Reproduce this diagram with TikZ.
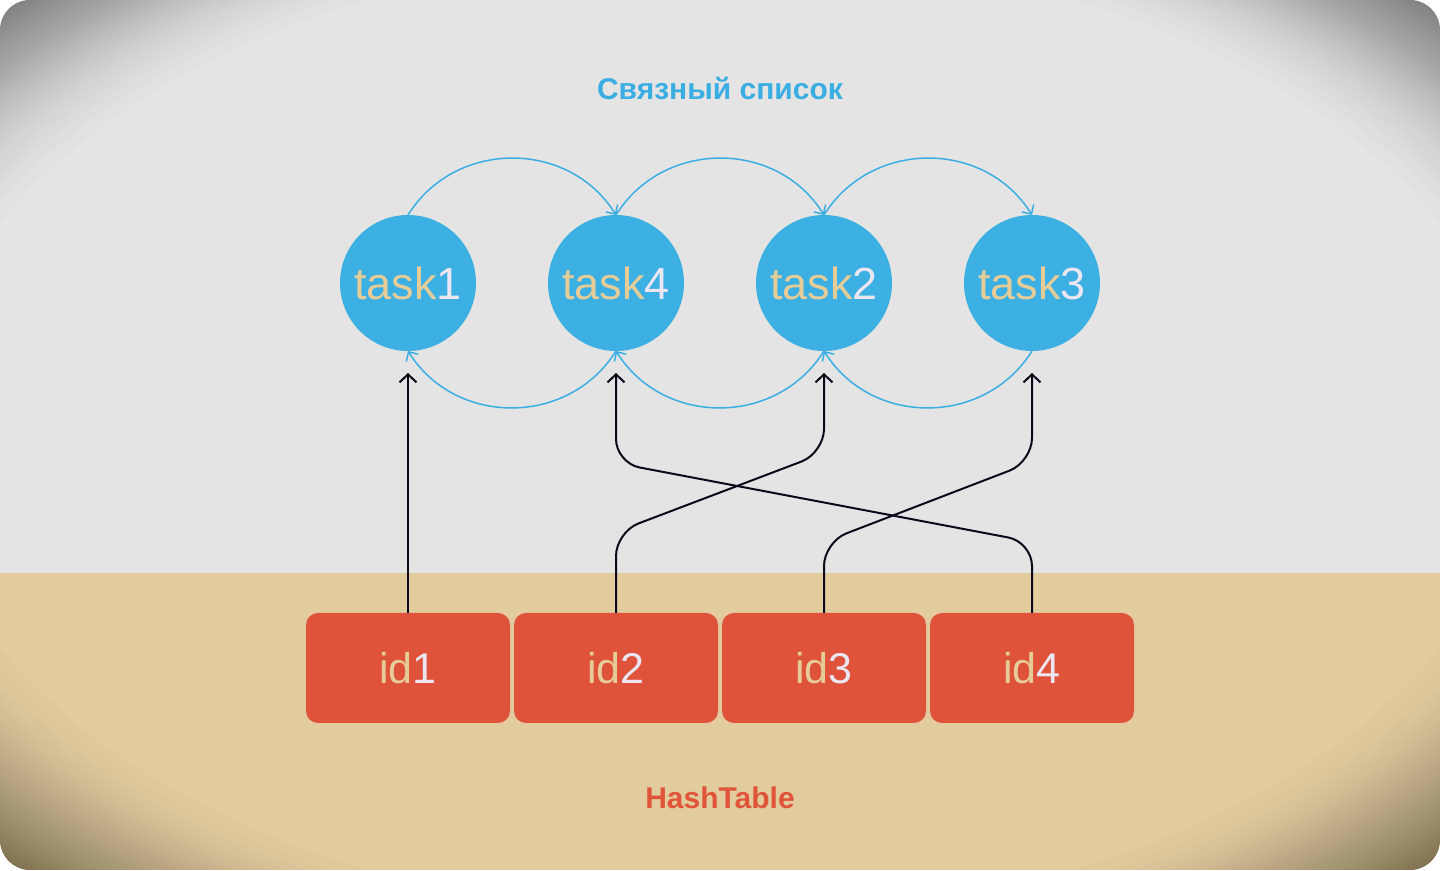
\documentclass[tikz,border=0pt]{standalone}
\usepackage{fontspec}
\setmainfont{Liberation Sans}
\usetikzlibrary{arrows.meta}
\definecolor{bggrey}{HTML}{E4E4E4}
\definecolor{bgtan}{HTML}{E2CC9E}
\definecolor{taskblue}{HTML}{3DB0E3}
\definecolor{linkblue}{HTML}{3AAEE3}
\definecolor{idred}{HTML}{E0533B}
\definecolor{txttan}{HTML}{E6CD98}
\definecolor{digitw}{HTML}{EBE6F2}
\definecolor{connblack}{HTML}{0A0A1A}
\definecolor{hashred}{HTML}{E0553A}
\tikzset{
  tasknode/.style={circle, fill=taskblue, minimum size=136pt, inner sep=0pt, outer sep=0pt, font=\fontsize{45}{47}\selectfont},
  idbox/.style={rectangle, rounded corners=12pt, fill=idred, minimum width=204pt, minimum height=110pt, inner sep=0pt, outer sep=0pt, font=\fontsize{43}{45}\selectfont},
  link/.style={draw=linkblue, line width=1.5pt, -{Straight Barb[length=7pt,width=14pt,line width=1.5pt]}, looseness=1.1},
  conn/.style={draw=connblack, line width=2pt, -{Straight Barb[length=8pt,width=17pt,line width=2pt]}, rounded corners=24pt, shorten >=22pt},
  heading/.style={font=\bfseries\fontsize{30}{32}\selectfont, inner sep=0pt},
  vigring/.style={fill=black, fill opacity=0.011, even odd rule}
}
\newcommand{\tasklabel}[1]{{\color{txttan}task}{\color{digitw}#1}}
\newcommand{\idlabel}[1]{{\color{txttan}id}{\color{digitw}#1}}
\begin{document}
\begin{tikzpicture}[x=1pt,y=1pt]
\useasboundingbox (0,0) rectangle (1440,870);
\fill[white] (0,0) rectangle (1440,870);
\begin{scope}
  \clip[rounded corners=30pt] (0,0) rectangle (1440,870);
  \fill[bggrey] (0,297) rectangle (1440,870);
  \fill[bgtan] (0,0) rectangle (1440,297);
  \foreach \k in {1,...,44}{
    \pgfmathsetmacro{\s}{1.4142*(0.75+0.25*(\k/45)^0.5)}
    \fill[vigring] (-10,-10) rectangle (1450,880) (720,435) ellipse [x radius={720*\s}, y radius={435*\s}];
  }
\end{scope}

\node[heading, text=linkblue] (title) at (720,782) {Связный список};
\node[heading, text=hashred] (hash) at (720,72) {HashTable};

\node[tasknode] (t1) at (408,587) {\tasklabel{1}};
\node[tasknode] (t4) at (616,587) {\tasklabel{4}};
\node[tasknode] (t2) at (824,587) {\tasklabel{2}};
\node[tasknode] (t3) at (1032,587) {\tasklabel{3}};

\node[idbox] (id1) at (408,202) {\idlabel{1}};
\node[idbox] (id2) at (616,202) {\idlabel{2}};
\node[idbox] (id3) at (824,202) {\idlabel{3}};
\node[idbox] (id4) at (1032,202) {\idlabel{4}};

\draw[link] (t1.north) to[out=58,in=122] (t4.north);
\draw[link] (t4.north) to[out=58,in=122] (t2.north);
\draw[link] (t2.north) to[out=58,in=122] (t3.north);
\draw[link] (t4.south) to[out=-122,in=-58] (t1.south);
\draw[link] (t2.south) to[out=-122,in=-58] (t4.south);
\draw[link] (t3.south) to[out=-122,in=-58] (t2.south);

\draw[conn] (id1.north) -- (t1.south);
\draw[conn] (id2.north) -- ([yshift=81pt]id2.north) -- ([yshift=-102pt]t2.south) -- (t2.south);
\draw[conn] (id3.north) -- ([yshift=71pt]id3.north) -- ([yshift=-111pt]t3.south) -- (t3.south);
\draw[conn] (id4.north) -- ([yshift=71pt]id4.north) -- ([yshift=-112pt]t4.south) -- (t4.south);
\end{tikzpicture}
\end{document}
